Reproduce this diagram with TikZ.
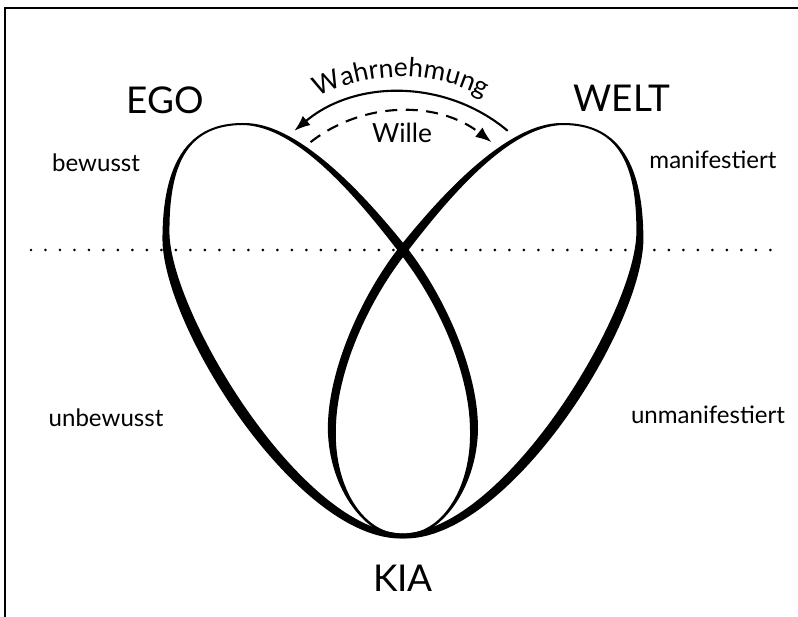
\documentclass[tikz,border=0pt]{standalone}
\usepackage{fontspec}
\setmainfont{Lato}
\usetikzlibrary{arrows.meta,positioning,decorations.text}

\newcommand{\wahrfont}{\fontsize{15}{18}\selectfont}
\newcommand{\schleife}{%
  \fill[even odd rule]
    (403,538.5) .. controls (297.5,541.5) and (159,322.5) .. (162.5,235)
      .. controls (163.5,160) and (190,122.8) .. (243,123)
      .. controls (300,121.8) and (369.1,200.5) .. (406.5,247.2)
      .. controls (443.5,294.2) and (478.5,370) .. (478,430)
      .. controls (476.5,490) and (440,536.8) .. cycle
    (403,533.5) .. controls (302.5,530.5) and (173,317.5) .. (169.5,235)
      .. controls (168.5,160) and (190,125.2) .. (243,125)
      .. controls (300,126.2) and (362.9,205.5) .. (399.5,252.8)
      .. controls (436.5,299.8) and (469.5,370) .. (470,430)
      .. controls (471.5,490) and (440,535.2) .. cycle;}

\begin{document}
\begin{tikzpicture}[
        x=0.02cm, y=-0.02cm,
        gross/.style={inner sep=0pt, font=\fontsize{21}{24}\selectfont},
        klein/.style={inner sep=0pt, font=\fontsize{13.7}{16}\selectfont},
        mittel/.style={inner sep=0pt, font=\fontsize{15}{18}\selectfont},
        pfeil/.style={-{Latex[length=3.2mm, width=2.4mm]}, line width=1.2pt},
        punkte/.style={line width=1.7pt, line cap=round, dash pattern=on 0pt off 0.29cm},
        rahmen/.style={line width=1.6pt}
    ]
        \useasboundingbox (0,0) rectangle (798,617);
        \draw[rahmen] (798,8) -- (5,8) -- (5,617);

        \coordinate (pl) at (31,250);
        \coordinate (pr) at (771,250);
        \draw[punkte] (pl) -- (pr);

        \schleife
        \begin{scope}[xshift=16.12cm, xscale=-1]
            \schleife
        \end{scope}

        \coordinate (unten) at (403,536);
        \node[gross] (ego) at (165,100) {EGO};
        \node[gross] (welt) at (622,98) {WELT};
        \node[gross, below=0.58cm of unten] (kia) {KIA};

        \node[klein] (bew) at (96,163) {bewusst};
        \node[klein] (unbew) at (106,418) {unbewusst};
        \node[klein] (man) at (713,160) {manifestiert};
        \node[klein] (unman) at (708,415) {unmanifestiert};

        \coordinate (mitte) at (401,258);
        \coordinate (wahr) at ([shift={(-50:166)}]mitte);
        \coordinate (will) at ([shift={(-128:147)}]mitte);
        \coordinate (schrift) at ([shift={(-119:181)}]mitte);

        \draw[pfeil] (wahr) arc[start angle=-50, end angle=-130, radius=166];
        \draw[pfeil, dash pattern=on 0.24cm off 0.17cm] (will) arc[start angle=-128, end angle=-52, radius=147];
        \path[decorate, decoration={text along path, text={|\wahrfont|Wahrnehmung}, text align=center}]
            (schrift) arc[start angle=-119, end angle=-61, radius=181];
        \node[mittel] (wille) at (402,133) {Wille};
    \end{tikzpicture}
\end{document}
